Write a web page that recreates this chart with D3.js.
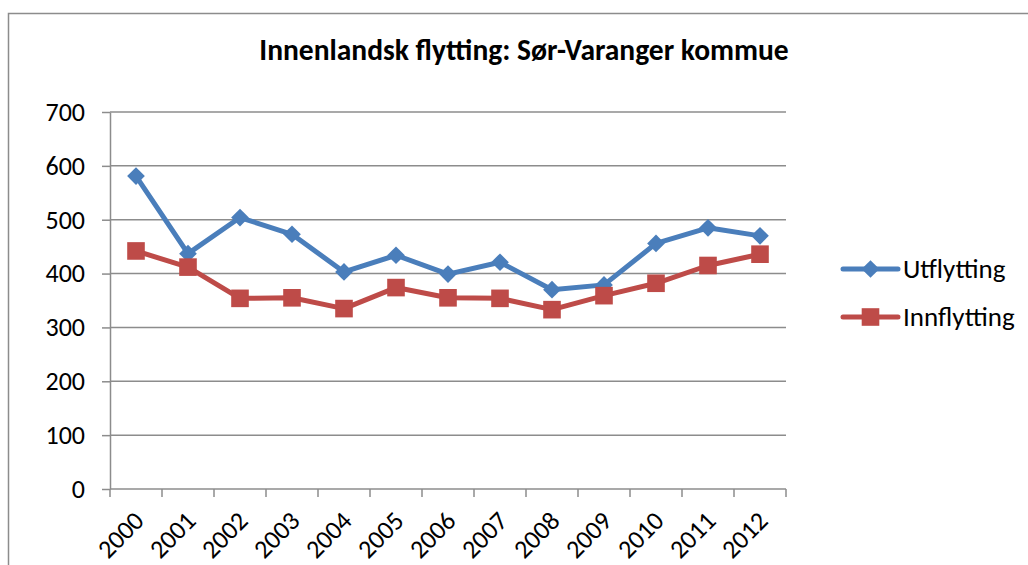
<!DOCTYPE html>
<html lang="no">
<head>
<meta charset="UTF-8">
<title>Innenlandsk flytting: Sør-Varanger kommue</title>
<script src="https://d3js.org/d3.v7.min.js"></script>
<style>
body { margin: 0; background: #fff; }
svg { display: block; font-family: Carlito, Lato, sans-serif; }
.grid line { stroke: #8c8c8c; stroke-width: 1.5px; }
.axis path, .axis line { stroke: #8c8c8c; stroke-width: 1.5px; }
.axis text { fill: #000; }
</style>
</head>
<body>
<svg width="1028" height="565"></svg>
<script>
// data
var years = ["2000", "2001", "2002", "2003", "2004", "2005", "2006",
             "2007", "2008", "2009", "2010", "2011", "2012"];
var utflytting = [581, 437, 504, 473, 403, 434, 399, 421, 370, 379, 456, 485, 470];
var innflytting = [442, 412, 354, 355, 335, 374, 355, 354, 333, 359, 382, 415, 436];
var yTicks = [0, 100, 200, 300, 400, 500, 600, 700];

var series = [
    { name: "Utflytting", values: utflytting, color: "#4a7ebb", shape: "diamond" },
    { name: "Innflytting", values: innflytting, color: "#be4b48", shape: "square" }
];

var svg = d3.select("svg");

// chart border (only left and top show in the picture)
svg.append("path")
    .attr("d", "M8.5,565V13.5H1028")
    .attr("fill", "none")
    .attr("stroke", "#8c8c8c")
    .attr("stroke-width", 1.5);

svg.append("text")
    .attr("x", 524)
    .attr("y", 60)
    .attr("text-anchor", "middle")
    .style("font-size", "29.5px")
    .style("font-weight", "bold")
    .text("Innenlandsk flytting: Sør-Varanger kommue");

var plot = { left: 110, right: 786, top: 112, bottom: 489 };

var x = d3.scaleBand()
    .domain(years)
    .range([plot.left, plot.right]);

var y = d3.scaleLinear()
    .domain([0, 700])
    .range([plot.bottom, plot.top]);

var g = svg.append("g");

// horizontal gridlines
g.append("g")
    .attr("class", "grid")
    .selectAll("line")
    .data(yTicks.slice(1))
    .enter()
    .append("line")
    .attr("x1", plot.left)
    .attr("x2", plot.right)
    .attr("y1", function(d) { return y(d); })
    .attr("y2", function(d) { return y(d); });

// y axis
var yAxis = g.append("g")
    .attr("class", "axis")
    .attr("transform", "translate(" + plot.left + ",0)")
    .call(d3.axisLeft(y).tickValues(yTicks).tickSize(8).tickPadding(17).tickSizeOuter(0))
    .attr("font-family", null)
    .attr("font-size", null);
yAxis.selectAll("text").style("font-size", "26px");

// x axis: ticks between categories, Excel style
var xAxis = g.append("g")
    .attr("class", "axis")
    .attr("transform", "translate(0," + plot.bottom + ")");
xAxis.append("line")
    .attr("x1", plot.left)
    .attr("x2", plot.right);
xAxis.selectAll(".tk")
    .data(years.concat(["end"]))
    .enter()
    .append("line")
    .attr("class", "tk")
    .attr("x1", function(d, i) { return plot.left + i * x.step(); })
    .attr("x2", function(d, i) { return plot.left + i * x.step(); })
    .attr("y1", 0)
    .attr("y2", 8);
xAxis.selectAll("text")
    .data(years)
    .enter()
    .append("text")
    .attr("text-anchor", "end")
    .style("font-size", "26px")
    .attr("transform", function(d) {
        return "translate(" + (x(d) + x.bandwidth() / 2 + 3) + ",27)rotate(-45)";
    })
    .attr("dy", "0.35em")
    .text(function(d) { return d; });

var line = d3.line()
    .x(function(d, i) { return x(years[i]) + x.bandwidth() / 2; })
    .y(function(d) { return y(d); });

var diamond = d3.symbol().type(d3.symbolDiamond2).size(200);
var square = d3.symbol().type(d3.symbolSquare).size(310);

function marker(shape) {
    return shape === "diamond" ? diamond() : square();
}

series.forEach(function(s) {
    var sg = g.append("g");
    sg.append("path")
        .attr("d", line(s.values))
        .attr("fill", "none")
        .attr("stroke", s.color)
        .attr("stroke-width", 5)
        .attr("stroke-linejoin", "round");
    sg.selectAll("path.m")
        .data(s.values)
        .enter()
        .append("path")
        .attr("class", "m")
        .attr("d", marker(s.shape))
        .attr("fill", s.color)
        .attr("transform", function(d, i) {
            return "translate(" + (x(years[i]) + x.bandwidth() / 2) + "," + y(d) + ")";
        });
});

// legend
var legend = svg.append("g")
    .selectAll("g")
    .data(series)
    .enter()
    .append("g")
    .attr("transform", function(d, i) { return "translate(843," + (269 + i * 48) + ")"; });
legend.append("line")
    .attr("x1", 0)
    .attr("x2", 55)
    .attr("stroke", function(d) { return d.color; })
    .attr("stroke-width", 5)
    .attr("stroke-linecap", "round");
legend.append("path")
    .attr("d", function(d) { return marker(d.shape); })
    .attr("fill", function(d) { return d.color; })
    .attr("transform", "translate(27.5,0)");
legend.append("text")
    .attr("x", 60)
    .attr("dy", "0.35em")
    .style("font-size", "27px")
    .text(function(d) { return d.name; });
</script>
</body>
</html>
